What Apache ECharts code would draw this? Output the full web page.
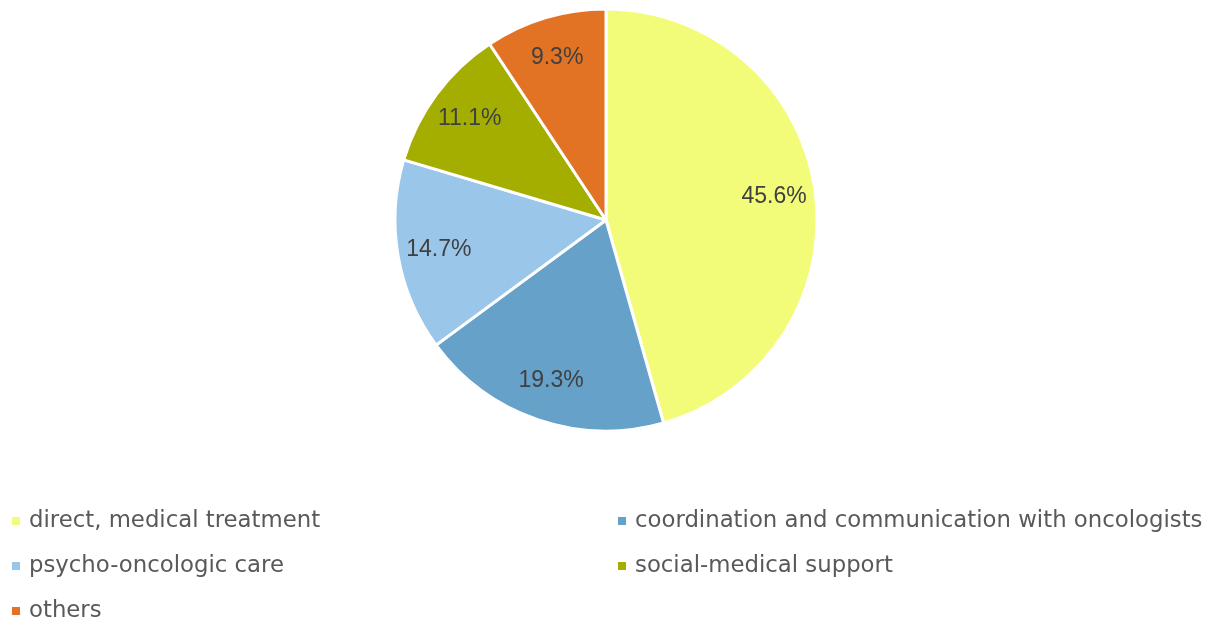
<!DOCTYPE html>
<html><head><meta charset="utf-8">
<script src="https://cdn.jsdelivr.net/npm/echarts@6/dist/echarts.min.js"></script>
<style>html,body{margin:0;padding:0;background:#fff}#c{width:1222px;height:621px}</style>
</head><body><div id="c"></div>
<script>
const categories = ["direct, medical treatment","coordination and communication with oncologists","psycho-oncologic care","social-medical support","others"];
const values = [45.6, 19.3, 14.7, 11.1, 9.3];
const colors = ["#F3FC78","#65A1C9","#9AC6EA","#A3AE00","#E27324"];

const data = categories.map((n,i)=>({name:n,value:values[i],itemStyle:{color:colors[i]}}));
const R = 211;
const chart = echarts.init(document.getElementById('c'));
const legendCommon = {orient:'vertical', icon:'rect', itemWidth:10, itemHeight:10, itemGap:21, height:200,
  textStyle:{fontFamily:'DejaVu Sans', fontSize:22.8, lineHeight:24, color:'#595959', padding:[0,0,0,3]}, selectedMode:false};
chart.setOption({
  animation:false,
  legend:[
    Object.assign({left:5, top:504, data:[categories[0],categories[2],categories[4]]}, legendCommon),
    Object.assign({left:611, top:504, data:[categories[1],categories[3]]}, legendCommon)
  ],
  series:[
    {type:'pie', center:[606,220], radius:[0,R], startAngle:90, clockwise:true,
     itemStyle:{borderColor:'#fff', borderWidth:3}, label:{show:false}, labelLine:{show:false},
     data:data},
    {type:'pie', center:[606,220], radius:[R*0.58,R], startAngle:90, clockwise:true, silent:true,
     itemStyle:{color:'rgba(0,0,0,0)'}, labelLine:{show:false},
     label:{show:true, position:'inside', formatter:p=>p.value.toFixed(1)+'%',
       fontFamily:'"Liberation Sans", Arial', fontSize:23, color:'#404040'},
     data:categories.map((n,i)=>({name:n+' ', value:values[i]}))}
  ]
});
</script></body></html>
